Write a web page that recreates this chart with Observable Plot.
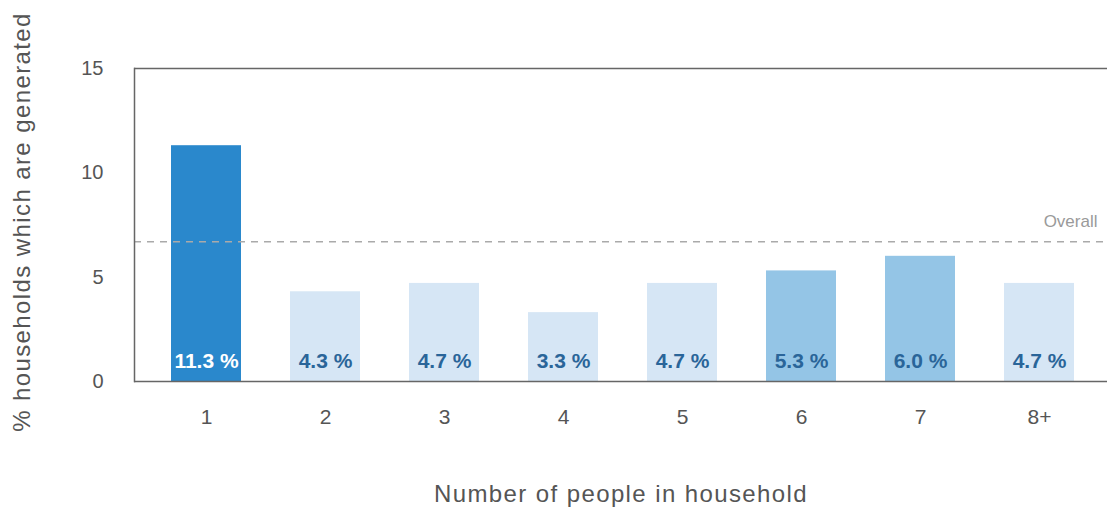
<!DOCTYPE html>
<html>
<head>
<meta charset="utf-8">
<script src="https://cdn.jsdelivr.net/npm/d3@7"></script>
<script src="https://cdn.jsdelivr.net/npm/@observablehq/plot@0.6"></script>
<style>
  html, body { margin: 0; padding: 0; background: #fff; }
  #chart svg { display: block; }
</style>
</head>
<body>
<div id="chart"></div>
<script>
const categories = ["1", "2", "3", "4", "5", "6", "7", "8+"];
const values = [11.3, 4.3, 4.7, 3.3, 4.7, 5.3, 6.0, 4.7];
const levels = ["high", "low", "low", "low", "low", "mid", "mid", "low"];
const overall = 6.7;
const yTicks = [0, 5, 10, 15];
const xTitle = "Number of people in household";
const yTitle = "% households which are generated";
const overallLabel = "Overall";

const data = categories.map((c, i) => ({cat: c, value: values[i], level: levels[i]}));

const font = "'Liberation Sans', Arial, sans-serif";

const chart = Plot.plot({
  width: 1107,
  height: 510,
  marginLeft: 134,
  marginRight: 0,
  marginTop: 68,
  marginBottom: 129,
  style: {fontFamily: font, background: "#fff"},
  x: {domain: categories, paddingInner: 0.414, paddingOuter: 0.28, align: 0.53},
  y: {domain: [0, 15]},
  color: {domain: ["high", "mid", "low"], range: ["#2a88cc", "#94c5e6", "#d6e6f5"]},
  marks: [
    Plot.barY(data, {x: "cat", y: "value", fill: "level"}),
    Plot.ruleY([overall], {stroke: "#aaaaaa", strokeWidth: 1.5, strokeDasharray: "7,6"}),
    Plot.text([overallLabel], {frameAnchor: "right", y: [overall], dx: -10, dy: -20, textAnchor: "end", fill: "#9a9a9a", fontSize: 17}),
    Plot.text(data, {
      x: "cat", y: 0, text: d => d.value.toFixed(1) + " %",
      dy: -20, lineAnchor: "middle", fontSize: 21, fontWeight: "bold",
      fill: d => d.level === "high" ? "#ffffff" : "#2a6599"
    }),
    Plot.ruleY([15], {stroke: "#666", strokeWidth: 1.5}),
    Plot.ruleY([0], {stroke: "#666", strokeWidth: 1.5}),
    Plot.frame({anchor: "left", stroke: "#666", strokeWidth: 1.5}),
    Plot.axisY({ticks: yTicks, tickSize: 0, tickPadding: 31, fontSize: 20, color: "#555", label: null}),
    Plot.axisX({tickSize: 0, tickPadding: 28, fontSize: 21, color: "#555", label: null}),
    Plot.text([xTitle], {frameAnchor: "bottom", dy: 113, lineAnchor: "middle", fontSize: 24, fill: "#555"}),
    Plot.text([yTitle], {frameAnchor: "left", dx: -112, dy: -3, rotate: -90, textAnchor: "middle", lineAnchor: "middle", fontSize: 24, fill: "#555"})
  ]
});

d3.select(chart).selectAll("text").filter(function() {
  return this.textContent === xTitle || this.textContent === yTitle;
}).style("letter-spacing", "1.4px");

document.getElementById("chart").appendChild(chart);
</script>
</body>
</html>
